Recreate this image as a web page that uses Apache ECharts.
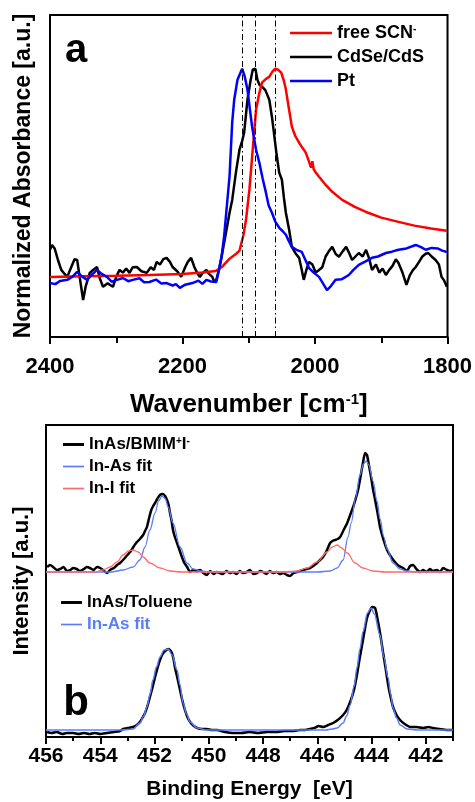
<!DOCTYPE html>
<html>
<head>
<meta charset="utf-8">
<script src="https://cdn.jsdelivr.net/npm/echarts@6/dist/echarts.min.js"></script>
<style>
html,body{margin:0;padding:0;background:#fff;}
#chart{width:475px;height:802px;}
</style>
</head>
<body>
<div id="chart"></div>
<script>
// ---------- Panel a: IR absorbance (wavenumber, normalized absorbance) ----------
const wavenumberTicks = [2400, 2200, 2000, 1800];
const dashLines = [2110, 2090, 2060];

const freeSCN = [[2400,0.224],[2350,0.226],[2300,0.228],[2250,0.231],[2200,0.235],[2170,0.240],[2150,0.246],[2140,0.262],[2129,0.292],[2120,0.308],[2114,0.322],[2108,0.38],[2104,0.44],[2099,0.55],[2094,0.70],[2089,0.847],[2084,0.91],[2080,0.948],[2074,0.962],[2069,0.970],[2064,0.99],[2060,1.0],[2055,0.995],[2051,0.985],[2047,0.955],[2044,0.922],[2040,0.86],[2035,0.784],[2030,0.75],[2024,0.724],[2019,0.705],[2014,0.687],[2010,0.66],[2006,0.631],[2004,0.655],[2002,0.625],[1998,0.61],[1994,0.597],[1985,0.57],[1974,0.541],[1959,0.511],[1940,0.485],[1923,0.466],[1900,0.445],[1874,0.429],[1850,0.415],[1825,0.404],[1801,0.396]];

const cdseCds = [[2400,0.325],[2397,0.343],[2393,0.33],[2388,0.287],[2383,0.25],[2378,0.235],[2374,0.224],[2368,0.26],[2363,0.29],[2359,0.287],[2355,0.22],[2350,0.138],[2346,0.19],[2340,0.239],[2335,0.25],[2329,0.261],[2325,0.22],[2320,0.187],[2313,0.2],[2305,0.187],[2300,0.225],[2295,0.25],[2290,0.24],[2285,0.255],[2280,0.239],[2275,0.26],[2269,0.261],[2262,0.245],[2254,0.239],[2248,0.26],[2243,0.25],[2239,0.28],[2234,0.27],[2229,0.29],[2224,0.295],[2219,0.28],[2215,0.261],[2208,0.245],[2202,0.224],[2196,0.26],[2192,0.28],[2187,0.295],[2182,0.26],[2178,0.24],[2174,0.224],[2169,0.24],[2164,0.25],[2160,0.235],[2155,0.224],[2152,0.205],[2149,0.213],[2145,0.25],[2140,0.313],[2135,0.38],[2129,0.463],[2125,0.511],[2119,0.62],[2114,0.698],[2110,0.73],[2107,0.761],[2102,0.884],[2097,0.96],[2094,0.996],[2090,1.0],[2087,0.959],[2084,0.94],[2080,0.933],[2075,0.92],[2069,0.884],[2065,0.82],[2062,0.761],[2058,0.68],[2054,0.612],[2050,0.586],[2047,0.52],[2044,0.463],[2039,0.399],[2035,0.336],[2029,0.31],[2024,0.295],[2020,0.25],[2017,0.213],[2013,0.25],[2009,0.28],[2004,0.27],[1999,0.24],[1994,0.25],[1989,0.26],[1984,0.3],[1979,0.32],[1974,0.336],[1969,0.31],[1964,0.299],[1958,0.32],[1953,0.336],[1948,0.31],[1944,0.287],[1939,0.3],[1934,0.313],[1928,0.3],[1923,0.325],[1918,0.29],[1914,0.25],[1908,0.27],[1903,0.24],[1898,0.255],[1893,0.231],[1888,0.25],[1883,0.265],[1878,0.29],[1874,0.276],[1868,0.24],[1862,0.194],[1857,0.23],[1852,0.25],[1848,0.261],[1843,0.28],[1838,0.3],[1833,0.31],[1829,0.313],[1824,0.3],[1818,0.287],[1813,0.27],[1809,0.224],[1805,0.21],[1801,0.187]];

const ptData = [[2400,0.201],[2392,0.197],[2385,0.209],[2374,0.213],[2366,0.225],[2359,0.243],[2352,0.226],[2344,0.213],[2337,0.232],[2329,0.25],[2322,0.235],[2314,0.224],[2307,0.206],[2299,0.213],[2290,0.22],[2282,0.208],[2275,0.213],[2265,0.219],[2258,0.204],[2250,0.205],[2240,0.214],[2232,0.199],[2224,0.201],[2215,0.192],[2210,0.197],[2204,0.183],[2196,0.195],[2185,0.201],[2176,0.21],[2170,0.198],[2164,0.213],[2157,0.207],[2149,0.205],[2145,0.25],[2141,0.299],[2137,0.38],[2134,0.463],[2129,0.6],[2125,0.8],[2122,0.884],[2117,0.959],[2110,1.0],[2106,0.97],[2102,0.922],[2095,0.784],[2089,0.698],[2084,0.649],[2079,0.59],[2074,0.537],[2070,0.49],[2065,0.463],[2060,0.43],[2054,0.407],[2049,0.395],[2044,0.381],[2040,0.36],[2035,0.336],[2028,0.325],[2020,0.317],[2015,0.29],[2009,0.257],[2002,0.24],[1994,0.224],[1988,0.2],[1982,0.175],[1976,0.19],[1969,0.213],[1960,0.215],[1949,0.231],[1942,0.25],[1934,0.269],[1925,0.28],[1914,0.295],[1905,0.3],[1893,0.313],[1884,0.318],[1874,0.325],[1862,0.33],[1848,0.343],[1840,0.335],[1833,0.325],[1824,0.332],[1815,0.33],[1808,0.322],[1801,0.317]];

// ---------- Panel b: XPS In 3d (binding energy eV, intensity a.u.) ----------
const energyTicks = [442, 444, 446, 448, 450, 452, 454, 456];

const inasBmim = [[455.96,170],[455.85,172],[455.74,170],[455.6,167],[455.48,168],[455.35,170],[455.23,166],[455.1,167],[455.0,169],[454.87,168],[454.75,166],[454.6,168],[454.5,170],[454.38,169],[454.25,167],[454.12,170],[454.0,169],[453.9,167],[453.75,164],[453.64,167],[453.5,169],[453.38,172],[453.27,174],[453.16,177],[453.03,181],[452.9,185],[452.78,190],[452.65,195],[452.54,198],[452.42,202],[452.35,206],[452.28,210],[452.2,219],[452.12,227],[452.05,231],[451.98,234],[451.9,238],[451.8,242],[451.69,243],[451.61,241],[451.54,237],[451.48,232],[451.43,224],[451.37,216],[451.32,207],[451.25,200],[451.17,194],[451.08,187],[450.99,180],[450.9,174],[450.8,170],[450.69,165],[450.58,167],[450.45,166],[450.32,167],[450.2,164],[450.07,162],[449.95,166],[449.82,163],[449.7,165],[449.6,164],[449.48,163],[449.35,166],[449.22,164],[449.11,165],[448.98,163],[448.86,166],[448.74,164],[448.6,165],[448.48,167],[448.35,163],[448.22,164],[448.1,166],[448.0,165],[447.88,163],[447.75,166],[447.63,164],[447.5,165],[447.38,163],[447.26,164],[447.12,162],[447.01,161],[446.88,164],[446.75,165],[446.64,166],[446.53,167],[446.4,168],[446.27,169],[446.15,171],[446.01,174],[445.9,177],[445.79,180],[445.66,186],[445.53,194],[445.44,196],[445.35,197],[445.25,198],[445.16,200],[445.03,207],[444.9,214],[444.79,222],[444.68,230],[444.59,238],[444.5,247],[444.41,260],[444.32,274],[444.24,284],[444.17,282],[444.1,272],[444.02,260],[443.95,248],[443.87,237],[443.78,224],[443.69,210],[443.56,197],[443.43,187],[443.28,180],[443.14,175],[442.99,171],[442.84,169],[442.7,166],[442.58,171],[442.47,172],[442.35,168],[442.21,165],[442.1,167],[441.98,165],[441.85,168],[441.74,166],[441.59,167],[441.48,165],[441.37,169],[441.22,167],[441.11,166],[441.02,167]];

const inasFitBmim = [[456,165],[453.6,165],[453.16,167],[452.79,170],[452.54,177],[452.35,190],[452.17,207],[451.98,224],[451.85,236],[451.72,241],[451.6,238],[451.5,230],[451.32,214],[451.06,190],[450.8,174],[450.58,168],[450.3,166],[450.0,165],[446.0,165],[445.53,166],[445.27,169],[445.05,177],[444.87,200],[444.75,214],[444.6,238],[444.43,262],[444.3,273],[444.2,276],[444.1,272],[443.95,256],[443.8,236],[443.69,218],[443.55,200],[443.43,188],[443.21,174],[442.95,168],[442.7,166],[442.4,165],[441,165]];

const iniFit = [[456,165],[454.2,165],[453.9,167],[453.64,170],[453.38,175],[453.16,182],[452.95,186],[452.79,187],[452.6,185],[452.42,180],[452.17,174],[451.8,169],[451.43,166],[451.0,165],[447.2,165],[446.75,166],[446.38,169],[446.01,175],[445.64,185],[445.45,190],[445.27,192],[445.1,189],[444.9,184],[444.61,174],[444.32,169],[443.95,166],[443.5,165],[441,165]];

const inasToluene = [[455.96,5],[455.8,4],[455.6,5],[455.4,3],[455.23,4],[455.0,4],[454.8,3],[454.6,4],[454.4,3],[454.2,4],[454.0,3],[453.75,4],[453.5,5],[453.27,6],[453.16,8],[452.98,9],[452.79,10],[452.65,12],[452.54,15],[452.45,19],[452.35,24],[452.26,31],[452.17,40],[452.07,50],[451.98,60],[451.89,69],[451.8,77],[451.7,83],[451.61,86],[451.5,88],[451.43,87],[451.36,84],[451.3,78],[451.25,70],[451.15,58],[451.06,47],[450.97,36],[450.88,27],[450.79,20],[450.69,15],[450.55,11],[450.43,9],[450.25,8],[450.07,8],[449.9,7],[449.7,7],[449.4,5],[449.11,4],[448.8,4],[448.5,5],[448.2,4],[447.85,5],[447.5,5],[447.2,6],[446.9,6],[446.64,7],[446.45,7],[446.27,8],[446.1,9],[445.95,11],[445.79,10],[445.6,12],[445.42,14],[445.25,17],[445.05,22],[444.92,27],[444.79,35],[444.65,47],[444.54,62],[444.45,77],[444.35,92],[444.26,106],[444.17,119],[444.07,126],[443.98,130],[443.87,129],[443.76,115],[443.67,101],[443.58,85],[443.48,68],[443.39,52],[443.3,40],[443.21,30],[443.08,22],[442.95,17],[442.78,13],[442.58,10],[442.35,10],[442.1,9],[441.9,10],[441.74,9],[441.5,8],[441.22,7],[441.02,7]];

const inasFitToluene = [[456,7],[453.2,7],[452.79,8],[452.54,14],[452.4,21],[452.28,30],[452.17,42],[452.06,57],[451.93,70],[451.8,80],[451.65,87],[451.5,88],[451.35,82],[451.17,67],[451.06,52],[450.95,34],[450.82,23],[450.69,15],[450.43,9],[450.1,7],[445.7,7],[445.45,8],[445.27,9],[445.05,14],[444.92,21],[444.79,32],[444.65,50],[444.54,69],[444.43,88],[444.32,105],[444.15,124],[444.02,129],[443.9,123],[443.69,102],[443.55,80],[443.39,59],[443.3,43],[443.21,29],[443.08,19],[442.95,12],[442.69,8],[442.3,7],[441,7]];

const FONT = '"Liberation Sans", Arial, sans-serif';
const FIT_BLUE = '#5a7cff';
const FIT_RED = '#ff6a6a';

const chart = echarts.init(document.getElementById('chart'), null, {renderer: 'canvas'});

const supRich = {
  sup: {fontSize: 10, fontWeight: 'bold', fontFamily: FONT, color: '#000', verticalAlign: 'top', lineHeight: 10}
};

function line(name, data, color, width, xi, yi, extra) {
  return Object.assign({
    name: name, type: 'line', data: data, xAxisIndex: xi, yAxisIndex: yi,
    symbol: 'none', showSymbol: false, color: color,
    lineStyle: {color: color, width: width}, emphasis: {disabled: true}, z: 3
  }, extra || {});
}

const option = {
  animation: false,
  backgroundColor: '#fff',
  grid: [
    {left: 50, top: 15, width: 399, height: 322, show: true, borderColor: '#000', borderWidth: 2, backgroundColor: 'transparent'},
    {left: 46, top: 425, width: 407, height: 312, show: true, borderColor: '#000', borderWidth: 2, backgroundColor: 'transparent'}
  ],
  xAxis: [
    {
      gridIndex: 0, type: 'value', min: 1800, max: 2400, interval: 200, inverse: true,
      axisLine: {show: true, lineStyle: {color: '#000', width: 2}},
      axisTick: {show: true, inside: false, length: 7, lineStyle: {color: '#000', width: 2}},
      minorTick: {show: true, splitNumber: 2, length: 6, lineStyle: {color: '#000', width: 2}},
      splitLine: {show: false}, minorSplitLine: {show: false},
      axisLabel: {show: true, margin: 19, fontSize: 22, fontWeight: 'bold', fontFamily: FONT, color: '#000',
        showMinLabel: true, showMaxLabel: true, formatter: function (v) { return String(v); }},
      name: 'Wavenumber [cm{sup|-1}]', nameLocation: 'middle', nameGap: 55,
      nameTextStyle: {fontSize: 26, fontWeight: 'bold', fontFamily: FONT, color: '#000',
        rich: {sup: {fontSize: 15, fontWeight: 'bold', fontFamily: FONT, color: '#000', verticalAlign: 'top', lineHeight: 15}}}
    },
    {
      gridIndex: 1, type: 'value', min: 441, max: 456, interval: 1, inverse: true, position: 'bottom',
      axisLine: {show: true, lineStyle: {color: '#000', width: 2}},
      axisTick: {show: true, inside: false, length: 7, customValues: energyTicks, lineStyle: {color: '#000', width: 2}},
      splitLine: {show: false},
      axisLabel: {show: true, margin: 9, fontSize: 21, fontWeight: 'bold', fontFamily: FONT, color: '#000', customValues: energyTicks,
        formatter: function (v) { return String(v); }},
      name: 'Binding Energy  [eV]', nameLocation: 'middle', nameGap: 42,
      nameTextStyle: {fontSize: 21, fontWeight: 'bold', fontFamily: FONT, color: '#000'}
    },
    {
      gridIndex: 1, type: 'value', min: 441, max: 456, interval: 1, inverse: true, position: 'bottom', offset: 0,
      axisLine: {show: false},
      axisTick: {show: true, inside: false, length: 4, lineStyle: {color: '#000', width: 2}},
      splitLine: {show: false},
      axisLabel: {show: false}
    }
  ],
  yAxis: [
    {
      gridIndex: 0, type: 'value', min: 0, max: 1.2,
      axisLine: {show: false}, axisTick: {show: false}, axisLabel: {show: false}, splitLine: {show: false},
      name: 'Normalized Absorbance [a.u.]', nameLocation: 'middle', nameGap: 15,
      nameTextStyle: {fontSize: 23, fontWeight: 'bold', fontFamily: FONT, color: '#000'}
    },
    {
      gridIndex: 1, type: 'value', min: 0, max: 312,
      axisLine: {show: false}, axisTick: {show: false}, axisLabel: {show: false}, splitLine: {show: false},
      name: 'Intensity [a.u.]', nameLocation: 'middle', nameGap: 13,
      nameTextStyle: {fontSize: 22, fontWeight: 'bold', fontFamily: FONT, color: '#000'}
    }
  ],
  legend: [
    {
      left: 290, top: 24, orient: 'vertical', padding: 0, itemGap: 6, itemWidth: 42, itemHeight: 12,
      selectedMode: false, icon: 'path://M0,0 L100,0 L100,6 L0,6 Z',
      data: ['free SCN-', 'CdSe/CdS', 'Pt'],
      formatter: function (n) { return n === 'free SCN-' ? 'free SCN{sup|-}' : n; },
      textStyle: {fontSize: 18, fontWeight: 'bold', fontFamily: FONT, color: '#000', rich: supRich}
    },
    {
      left: 63, top: 436, orient: 'vertical', padding: 0, itemGap: 5, itemWidth: 21, itemHeight: 12,
      selectedMode: false,
      data: [
        {name: 'InAs/BMIM+I-', icon: 'path://M0,0 L100,0 L100,14 L0,14 Z'},
        {name: 'In-As fit', icon: 'path://M0,0 L100,0 L100,8 L0,8 Z'},
        {name: 'In-I fit', icon: 'path://M0,0 L100,0 L100,8 L0,8 Z'}
      ],
      formatter: function (n) { return n === 'InAs/BMIM+I-' ? 'InAs/BMIM{sup|+}I{sup|-}' : n; },
      textStyle: {fontSize: 17, fontWeight: 'bold', fontFamily: FONT, color: '#000', rich: supRich}
    },
    {
      left: 61, top: 594, orient: 'vertical', padding: 0, itemGap: 5, itemWidth: 21, itemHeight: 12,
      selectedMode: false,
      data: [
        {name: 'InAs/Toluene', icon: 'path://M0,0 L100,0 L100,14 L0,14 Z'},
        {name: 'In-As fit (Toluene)', icon: 'path://M0,0 L100,0 L100,8 L0,8 Z', textStyle: {color: FIT_BLUE}}
      ],
      formatter: function (n) { return n === 'In-As fit (Toluene)' ? 'In-As fit' : n; },
      textStyle: {fontSize: 17, fontWeight: 'bold', fontFamily: FONT, color: '#000'}
    }
  ],
  graphic: [
    {type: 'text', x: 76, y: 51, z: 10, style: {text: 'a', textAlign: 'center', textVerticalAlign: 'middle', font: 'bold 40px ' + FONT, fill: '#000'}},
    {type: 'text', x: 76, y: 703, z: 10, style: {text: 'b', textAlign: 'center', textVerticalAlign: 'middle', font: 'bold 42px ' + FONT, fill: '#000'}}
  ],
  series: [
    line('CdSe/CdS', cdseCds, '#000000', 2.5, 0, 0, {
      markLine: {
        silent: true, symbol: ['none', 'none'], label: {show: false},
        lineStyle: {color: '#000', width: 1, type: [6, 3, 1.5, 3]},
        data: dashLines.map(function (v) { return {xAxis: v}; })
      }
    }),
    line('free SCN-', freeSCN, '#ff0000', 2.5, 0, 0),
    line('Pt', ptData, '#0000ff', 2.5, 0, 0),
    line('InAs/BMIM+I-', inasBmim, '#000000', 2.5, 1, 1, {smooth: 0.2}),
    line('In-As fit', inasFitBmim, FIT_BLUE, 1.3, 1, 1, {smooth: 0.35, smoothMonotone: 'x'}),
    line('In-I fit', iniFit, FIT_RED, 1.3, 1, 1, {smooth: 0.35, smoothMonotone: 'x'}),
    line('InAs/Toluene', inasToluene, '#000000', 2.5, 1, 1, {smooth: 0.2}),
    line('In-As fit (Toluene)', inasFitToluene, FIT_BLUE, 1.5, 1, 1, {smooth: 0.35, smoothMonotone: 'x'})
  ]
};

chart.setOption(option);
</script>
</body>
</html>
